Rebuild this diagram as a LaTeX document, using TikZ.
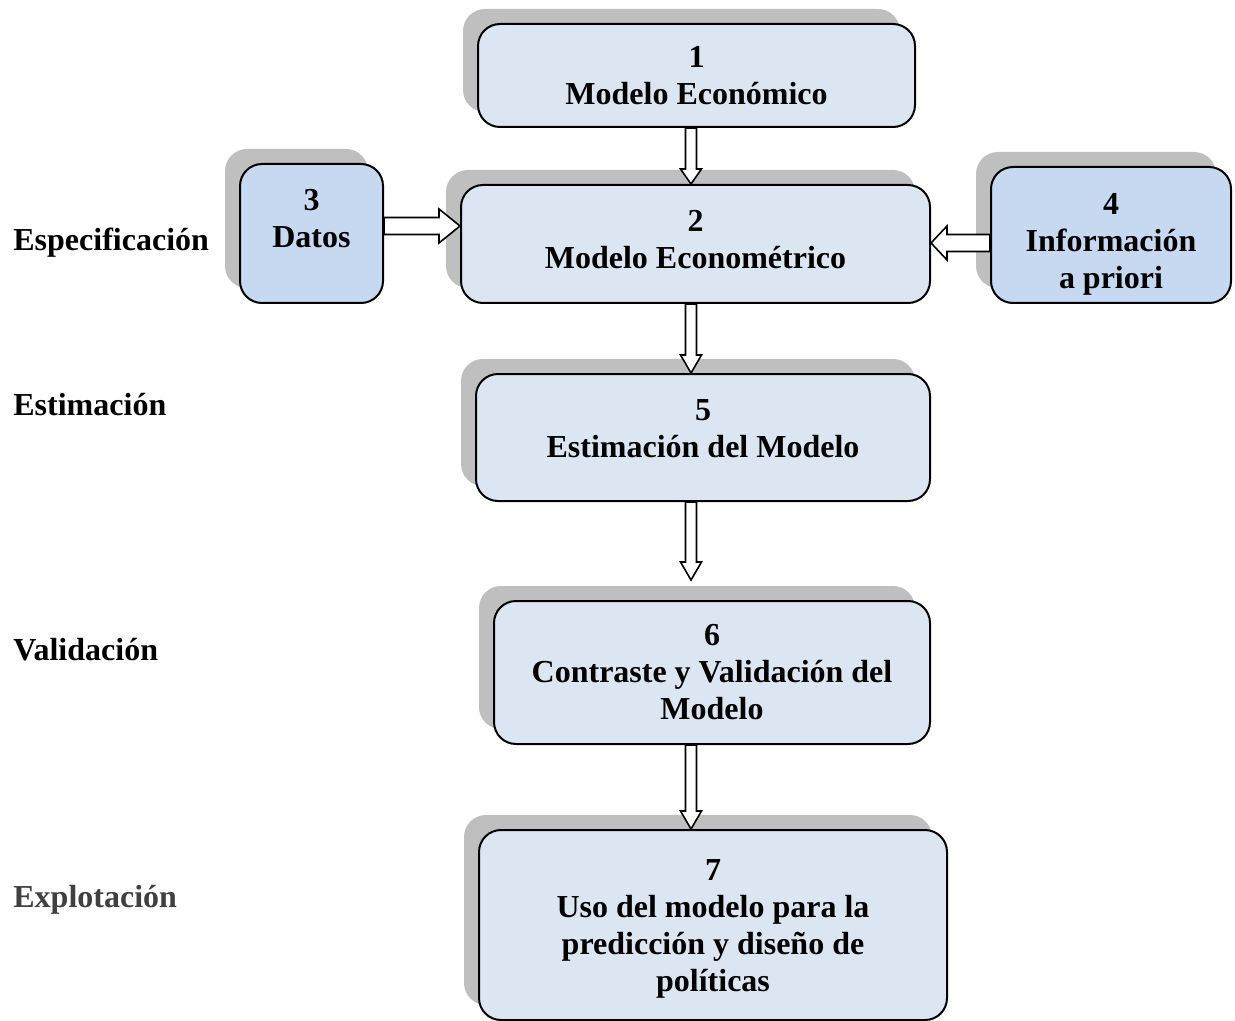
\documentclass[tikz,border=0pt]{standalone}
\usepackage{fontspec}
\setmainfont{Liberation Serif}
\usetikzlibrary{calc,shadows}

\definecolor{boxfill}{HTML}{DCE6F2}
\definecolor{datafill}{HTML}{C6D9F1}
\definecolor{shadowgray}{HTML}{BFBFBF}
\definecolor{labelgray}{HTML}{404040}

% hollow block arrow: from, to, shaft half width, head half width, head length
\newcommand\fatarrow[5]{%
  \coordinate (fb) at ($(#2)!#5!(#1)$);
  \draw[arrowbody] ($(#1)!#3!90:(#2)$) -- ($(fb)!#3!-90:(#1)$) -- ($(fb)!#4!-90:(#1)$) -- (#2)
    -- ($(fb)!#4!90:(#1)$) -- ($(fb)!#3!90:(#1)$) -- ($(#1)!#3!-90:(#2)$) -- cycle;}

\tikzset{
  stage/.style={draw=black, line width=1pt, rounded corners=11pt, fill=boxfill,
    general shadow={fill=shadowgray, shadow xshift=-7.5pt, shadow yshift=7.5pt},
    align=center, inner sep=0pt,
    font=\fontsize{16pt}{18.5pt}\selectfont\bfseries},
  datastage/.style={stage, fill=datafill},
  phase/.style={anchor=base west, inner sep=0pt, font=\fontsize{16pt}{18.5pt}\selectfont\bfseries},
  arrowbody/.style={draw=black, line width=0.8pt, fill=white, line join=miter},
}

\begin{document}
\begin{tikzpicture}[x=0.5pt,y=-0.5pt]
	\useasboundingbox (0,0) rectangle (1235,1021);
	\clip (0,0) rectangle (1235,1021);
	% boxes
	\node[stage, minimum width=218.5pt, minimum height=51.5pt] (m1) at (696.5,75.5) {1\\Modelo Económico};
	\node[stage, minimum width=234.5pt, minimum height=59pt] (m2) at (695.5,244) {2\\Modelo Econométrico\\[-13.5pt]};
	\node[datastage, minimum width=71.5pt, minimum height=69.5pt] (m3) at (311.5,233.5) {3\\Datos\\[-3.5pt]};
	\node[datastage, minimum width=120pt, minimum height=68pt] (m4) at (1111,235) {\rule{0pt}{20pt}4\\Información\\a priori};
	\node[stage, minimum width=227pt, minimum height=63.5pt] (m5) at (703,437.5) {5\\Estimación del Modelo\\[-9.5pt]};
	\node[stage, minimum width=218pt, minimum height=71.5pt] (m6) at (712,672.5) {6\\Contraste y Validación del\\Modelo};
	\node[stage, minimum width=234pt, minimum height=95pt] (m7) at (713,925) {\rule{0pt}{14pt}7\\Uso del modelo para la\\predicción y diseño de\\políticas};
	% phases
	\node[phase] (p1) at (13,251) {Especificación};
	\node[phase] (p2) at (13,415) {Estimación};
	\node[phase] (p3) at (13,660) {Validación};
	\node[phase, text=labelgray] (p4) at (13,907) {Explotación};
	% arrows
	\coordinate (col) at (691,0);
	\coordinate (t56) at ($(m6.north -| col)+(0,-20)$);
	\coordinate (s42) at (m4.west |- 0,243);
	\fatarrow{m1.south -| col}{m2.north -| col}{2.75pt}{5.25pt}{7.5pt}
	\fatarrow{m2.south -| col}{m5.north -| col}{2.75pt}{5.25pt}{9pt}
	\fatarrow{m5.south -| col}{t56}{2.75pt}{5.25pt}{9pt}
	\fatarrow{m6.south -| col}{m7.north -| col}{2.75pt}{5.25pt}{9pt}
	\fatarrow{m3.east |- 0,226}{m2.west |- 0,226}{4.25pt}{8.5pt}{10.5pt}
	\fatarrow{s42}{m2.east |- s42}{4.25pt}{8.5pt}{8pt}
\end{tikzpicture}
\end{document}
